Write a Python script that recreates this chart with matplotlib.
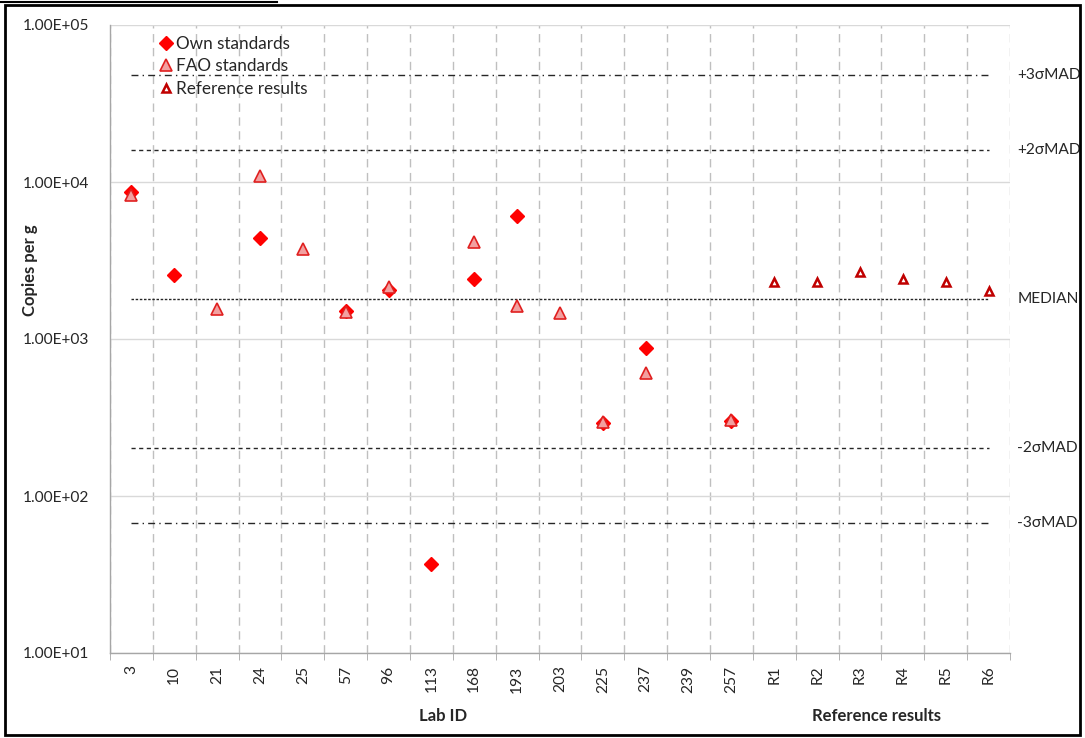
import numpy as np
import matplotlib
matplotlib.use("Agg")
import matplotlib.pyplot as plt
from matplotlib.lines import Line2D
from matplotlib.patches import Rectangle
from matplotlib.ticker import FixedLocator, NullLocator, FuncFormatter

plt.rcParams['font.family'] = ['Lato', 'DejaVu Sans']

nan = np.nan
labs = ['3', '10', '21', '24', '25', '57', '96', '113', '168', '193', '203',
        '225', '237', '239', '257', 'R1', 'R2', 'R3', 'R4', 'R5', 'R6']
own_std = [8670, 2547, nan, 4380, nan, 1500, 2050, 36.9, 2400, 6090, nan,
           290, 877, nan, 300, nan, nan, nan, nan, nan, nan]
fao_std = [8260, nan, 1546, 10920, 3740, 1490, 2150, nan, 4170, 1622, 1470,
           296, 607, nan, 305, nan, nan, nan, nan, nan, nan]
ref_res = [nan] * 15 + [2318, 2318, 2685, 2400, 2318, 2033]

limit_names = ['+3σMAD', '+2σMAD', 'MEDIAN', '-2σMAD', '-3σMAD']
limit_values = [48100, 16000, 1800, 202, 67.3]

W, H = 1085, 738
fig = plt.figure(figsize=(W / 100, H / 100), dpi=100)
ax = fig.add_axes([110 / W, 1 - 653 / H, 900 / W, 628 / H])

x = np.arange(len(labs))
ax.set_yscale('log')
ax.set_ylim(10, 1e5)
ax.set_xlim(-0.5, len(labs) - 0.5)

# grid
ax.yaxis.set_major_locator(FixedLocator([10, 100, 1000, 1e4, 1e5]))
ax.yaxis.set_minor_locator(NullLocator())
ax.yaxis.set_major_formatter(FuncFormatter(lambda v, p: f"{v:.2E}"))
ax.grid(axis='y', which='major', color='#D9D9D9', linewidth=1, linestyle='-')
ax.set_xticks(x)
ax.set_xticklabels(labs, rotation=90)
ax.set_xticks(np.arange(-0.5, len(labs)), minor=True)
ax.grid(axis='x', which='minor', color='#BFBFBF', linewidth=1, linestyle=(0, (6, 4)))
ax.grid(axis='x', which='major', visible=False)

ax.tick_params(axis='x', which='major', length=0, pad=9, labelsize=11.2, labelcolor='#262626')
ax.tick_params(axis='x', which='minor', length=5, color='#A6A6A6', direction='out')
ax.tick_params(axis='y', which='major', length=0, pad=15, labelsize=11.2, labelcolor='#262626')

for s in ['top', 'right']:
    ax.spines[s].set_visible(False)
for s in ['left', 'bottom']:
    ax.spines[s].set_color('#A6A6A6')
    ax.spines[s].set_linewidth(1)

# limit lines
styles = [(0, (5, 3, 1, 3)), (0, (3, 2.5)), (0, (1.8, 1.2)), (0, (3, 2.5)), (0, (5, 3, 1, 3))]
for name, v, ls in zip(limit_names, limit_values, styles):
    ax.plot([x[0], x[-1]], [v, v], color='#262626', linewidth=1, linestyle=ls, zorder=2)
    ax.text(1.008, v, name, transform=ax.get_yaxis_transform(), ha='left', va='center',
            fontsize=11.2, color='#262626', clip_on=False)

# points
ax.plot(x, own_std, linestyle='none', marker='D', markersize=7, color='#FF0000',
        markeredgecolor='#FF0000', zorder=4)
ax.plot(x, fao_std, linestyle='none', marker='^', markersize=9, markerfacecolor='#F2A0A0',
        markeredgecolor='#E02020', markeredgewidth=1.2, zorder=5)
ax.plot(x, ref_res, linestyle='none', marker='^', markersize=6.2, markerfacecolor='white',
        markeredgecolor='#C00000', markeredgewidth=1.8, zorder=5)

handles = [
    Line2D([], [], linestyle='none', marker='D', markersize=7, color='#FF0000'),
    Line2D([], [], linestyle='none', marker='^', markersize=9, markerfacecolor='#F2A0A0',
           markeredgecolor='#E02020', markeredgewidth=1.2),
    Line2D([], [], linestyle='none', marker='^', markersize=6.2, markerfacecolor='white',
           markeredgecolor='#C00000', markeredgewidth=1.8),
]
ax.legend(handles, ['Own standards', 'FAO standards', 'Reference results'],
          loc='upper left', bbox_to_anchor=(151 / W, 1 - 27 / H),
          bbox_transform=fig.transFigure, frameon=False, fontsize=12.3,
          handlelength=0.8, handletextpad=0.15, labelspacing=0.38, borderpad=0,
          labelcolor='#262626')

fig.text(30 / W, 1 - 270 / H, 'Copies per g', rotation=90, ha='center', va='center',
         fontsize=12, fontweight='bold', color='#262626')
fig.text(443 / W, 1 - 716 / H, 'Lab ID', ha='center', va='center',
         fontsize=12, fontweight='bold', color='#262626')
fig.text(877 / W, 1 - 716 / H, 'Reference results', ha='center', va='center',
         fontsize=12, fontweight='bold', color='#262626')

# outer frame
fig.patches.append(Rectangle((5 / W, 3 / H), 1075 / W, 730 / H, transform=fig.transFigure,
                             fill=False, edgecolor='black', linewidth=2, zorder=10))
fig.lines.append(Line2D([0, 277 / W], [1 - 1.5 / H, 1 - 1.5 / H], transform=fig.transFigure,
                        color='black', linewidth=1.5))

fig.savefig('out.png', dpi=100)
